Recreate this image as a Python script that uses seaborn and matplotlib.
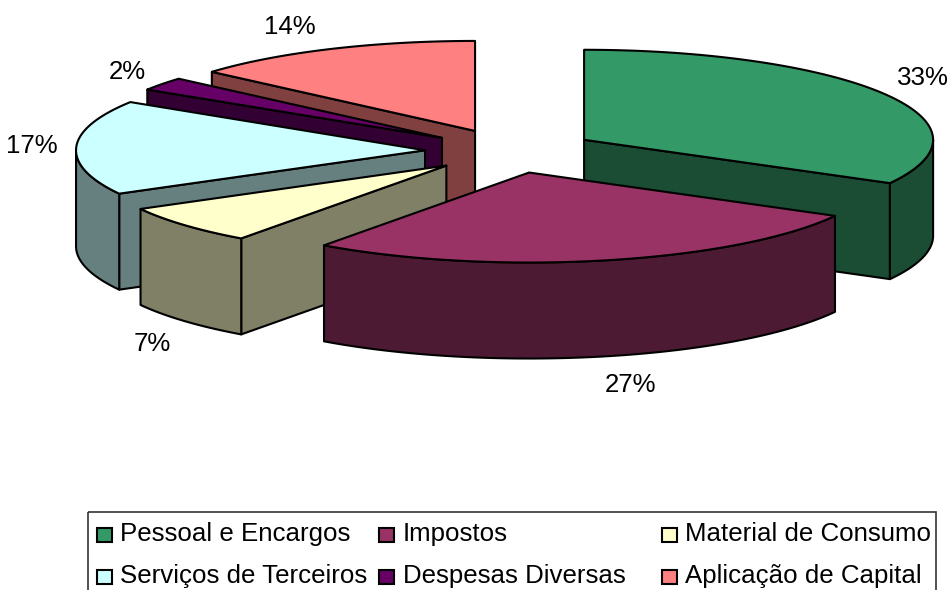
import numpy as np
import matplotlib
matplotlib.use("Agg")
import matplotlib.pyplot as plt
from matplotlib.patches import Polygon, Rectangle
import seaborn as sns

# ── Data ─────────────────────────────────────────────────────
categories = ["Pessoal e Encargos", "Impostos", "Material de Consumo",
              "Serviços de Terceiros", "Despesas Diversas", "Aplicação de Capital"]
shares = [33, 27, 7, 17, 2.4, 13.6]
colors = ["#339966", "#993366", "#FFFFCC", "#CCFFFF", "#660066", "#FF8080"]

# ── Look and pie geometry (pixels) ───────────────────────────
sns.set_theme(style="white")
plt.rcParams["font.family"] = ["Liberation Sans", "DejaVu Sans"]

CX, CY = 510.5, 151        # pie centre before exploding
RX, RY = 349, 90           # ellipse radii of the tilted pie
DEPTH = 96
EXPLODE = 0.245
EDGE = "black"
LW = 1.5
FONT = 18.6


def rim_xy(apex, t):
    # t in degrees, clockwise from 12 o'clock
    r = np.radians(t)
    return apex[0] + RX * np.sin(r), apex[1] - RY * np.cos(r)


def arc(apex, t0, t1):
    ts = np.linspace(t0, t1, 80)
    return np.column_stack(rim_xy(apex, ts))


def shade(col):
    return tuple(c * 0.5 for c in matplotlib.colors.to_rgb(col))


fig = plt.figure(figsize=(9.52, 5.9), dpi=100)
ax = fig.add_axes([0, 0, 1, 1])
ax.set_xlim(0, 952)
ax.set_ylim(590, 0)
ax.axis("off")

# ── Slices ───────────────────────────────────────────────────
ends = np.cumsum(shares) * 3.6
starts = ends - np.array(shares) * 3.6

# painter's order: back slices first
draw_order = [5, 4, 3, 2, 0, 1]
for i in draw_order:
    t0, t1 = starts[i], ends[i]
    mid = np.radians((t0 + t1) / 2)
    apex = (CX + EXPLODE * RX * np.sin(mid), CY - EXPLODE * RY * np.cos(mid))
    dark = shade(colors[i])
    down = np.array([0, DEPTH])
    style = dict(edgecolor=EDGE, linewidth=LW, joinstyle="round")

    # radial walls that face the viewer
    for t, visible in ((t0, np.sin(np.radians(t0)) < -1e-6), (t1, np.sin(np.radians(t1)) > 1e-6)):
        if visible:
            p = np.array(rim_xy(apex, t))
            a = np.array(apex)
            ax.add_patch(Polygon([a, p, p + down, a + down], facecolor=dark, **style))

    # outer rim, only the part between 3 and 9 o'clock shows
    lo, hi = max(t0, 90), min(t1, 270)
    if hi > lo:
        edge = arc(apex, lo, hi)
        ax.add_patch(Polygon(np.vstack([edge, edge[::-1] + down]), facecolor=dark, **style))

    # top face
    ax.add_patch(Polygon(np.vstack([[apex], arc(apex, t0, t1)]), facecolor=colors[i], **style))

# ── Percent labels ───────────────────────────────────────────
label_xy = [(923, 85), (631, 392), (152, 351), (32, 153), (127, 79), (290, 34)]
for v, (x, y) in zip(shares, label_xy):
    ax.text(x, y, f"{round(v)}%", ha="center", va="baseline", fontsize=FONT, color="black")

# ── Legend box, runs off the bottom of the canvas ────────────
ax.add_patch(Rectangle((88, 511.5), 848, 100, facecolor="none", edgecolor="#333333", linewidth=1.2))
col_x = [97, 379, 662]
text_x = [120, 403, 685]
row_y = [541, 582.5]
for n, (name, col) in enumerate(zip(categories, colors)):
    c, y = n % 3, row_y[n // 3]
    ax.add_patch(Rectangle((col_x[c], y - 13), 15, 14, facecolor=col, edgecolor=EDGE, linewidth=1.5))
    ax.text(text_x[c], y, name, ha="left", va="baseline", fontsize=FONT, color="black")

fig.savefig("out.png", dpi=100)
